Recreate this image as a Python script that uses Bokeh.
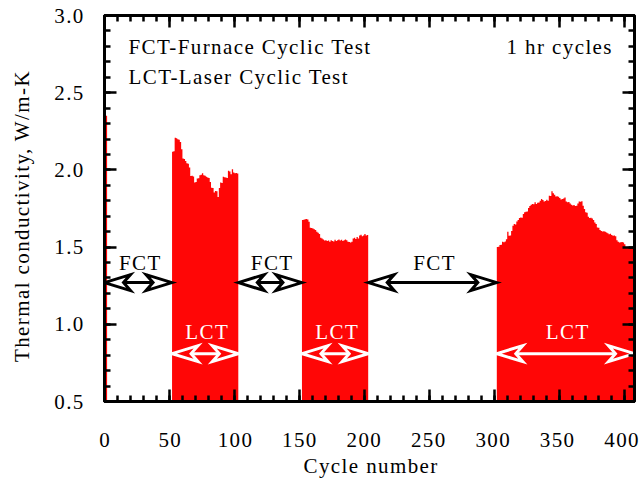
from bokeh.plotting import figure
from bokeh.models import (FixedTicker, LinearAxis, Range1d, Label, Title,
                          NumeralTickFormatter, InlineStyleSheet)
from bokeh.embed import file_html
from bokeh.resources import INLINE

FONT = "Liberation Serif"
FONT_SIZE = "21px"
TRACKING = 1.4          # letter spacing of all texts, px
RED = "#ff0606"

# ---- thermal conductivity (W/m-K) measured during the laser cycling phases ----
spike_cycles = [1]
spike_k = [2.35]

lct_a_cycles = list(range(52, 103))
lct_a_k = [2.117, 2.121, 2.208, 2.205, 2.199, 2.196, 2.180, 2.134, 2.074, 2.070,
           2.058, 2.043, 2.040, 2.015, 1.961, 1.962, 1.958, 1.918, 1.921, 1.944,
           1.946, 1.965, 1.968, 1.978, 1.965, 1.962, 1.956, 1.950, 1.948, 1.922,
           1.885, 1.882, 1.853, 1.864, 1.861, 1.825, 1.883, 1.918, 1.915, 1.955,
           1.952, 1.950, 1.947, 1.994, 1.990, 1.972, 2.005, 1.983, 1.978, 1.980,
           1.976]

lct_b_cycles = list(range(152, 203))
lct_b_k = [1.675, 1.677, 1.680, 1.682, 1.679, 1.664, 1.625, 1.623, 1.620, 1.615,
           1.610, 1.600, 1.593, 1.585, 1.560, 1.555, 1.550, 1.543, 1.545, 1.539,
           1.542, 1.535, 1.545, 1.539, 1.536, 1.548, 1.540, 1.545, 1.550, 1.543,
           1.548, 1.540, 1.545, 1.550, 1.545, 1.535, 1.533, 1.530, 1.535, 1.555,
           1.560, 1.552, 1.565, 1.555, 1.575, 1.580, 1.570, 1.575, 1.585, 1.575,
           1.578]

lct_c_cycles = list(range(302, 408))
lct_c_k = [1.501, 1.503, 1.514, 1.516, 1.534, 1.532, 1.536, 1.551, 1.599, 1.573,
           1.575, 1.605, 1.638, 1.649, 1.647, 1.666, 1.675, 1.688, 1.692, 1.690,
           1.714, 1.725, 1.729, 1.731, 1.753, 1.766, 1.774, 1.779, 1.777, 1.790,
           1.779, 1.787, 1.789, 1.800, 1.811, 1.805, 1.796, 1.798, 1.807, 1.800,
           1.833, 1.831, 1.861, 1.848, 1.839, 1.828, 1.830, 1.826, 1.818, 1.809,
           1.811, 1.815, 1.822, 1.796, 1.790, 1.792, 1.783, 1.774, 1.770, 1.772,
           1.766, 1.768, 1.783, 1.796, 1.794, 1.797, 1.768, 1.746, 1.725, 1.723,
           1.696, 1.688, 1.690, 1.686, 1.675, 1.660, 1.649, 1.627, 1.625, 1.610,
           1.605, 1.601, 1.603, 1.600, 1.594, 1.590, 1.584, 1.586, 1.579, 1.573,
           1.575, 1.571, 1.545, 1.534, 1.530, 1.532, 1.533, 1.530, 1.519, 1.500,
           1.502, 1.499, 1.500, 1.501, 1.498, 1.500]

# phase boundaries (cycle numbers)
fct_phases = [(0, 52), (103, 152), (203, 302)]
lct_phases = [(52, 103), (152, 203), (302, 408)]

# axes
X0, X1 = 0, 408
Y0, Y1 = 0.5, 3.0
x_major = [0, 50, 100, 150, 200, 250, 300, 350, 400]
x_minor = list(range(0, 410, 10))
y_major = [0.5, 1.0, 1.5, 2.0, 2.5, 3.0]
y_minor = [round(0.5 + 0.1 * i, 1) for i in range(26)]

FW, FH = 530, 386
PX_X = FW / (X1 - X0)
PX_Y = FH / (Y1 - Y0)

p = figure(frame_width=FW, frame_height=FH,
           x_range=Range1d(X0, X1), y_range=Range1d(Y0, Y1),
           output_backend="svg", toolbar_location=None,
           min_border_left=104, min_border_right=7,
           min_border_top=15, min_border_bottom=79)
# x tick labels live on a label-only axis whose range is stretched a little,
# so the letter-spaced numbers drift left toward the right end and "400"
# stays inside the page
p.extra_x_ranges = {"xlab": Range1d(X0 - 0.01, X1 + 3.25)}
p.stylesheets = [InlineStyleSheet(css=f":host {{ letter-spacing: {TRACKING}px; }}")]
p.xgrid.visible = False
p.ygrid.visible = False
p.outline_line_color = "black"
p.outline_line_width = 3
p.background_fill_color = "white"
p.border_fill_color = "white"

x_ticker = FixedTicker(ticks=x_major, minor_ticks=x_minor)
y_ticker = FixedTicker(ticks=y_major, minor_ticks=y_minor)


def style_axis(ax, labels=True):
    ax.axis_line_width = 3
    ax.axis_line_color = "black"
    ax.major_tick_line_width = 2.5
    ax.minor_tick_line_width = 2.5
    ax.major_tick_in = 12
    ax.major_tick_out = 0
    ax.minor_tick_in = 6
    ax.minor_tick_out = 0
    ax.major_label_text_font = FONT
    ax.axis_label_text_font = FONT
    ax.axis_label_text_font_size = FONT_SIZE
    ax.axis_label_text_font_style = "normal"
    ax.axis_label_text_color = "black"
    if labels:
        ax.major_label_text_font_size = FONT_SIZE
        ax.major_label_text_color = "black"
    else:
        ax.major_label_text_font_size = "1px"
        ax.major_label_text_color = None
        ax.major_label_standoff = 0


xax, yax = p.xaxis[0], p.yaxis[0]
xax.ticker = x_ticker
yax.ticker = y_ticker
yax.formatter = NumeralTickFormatter(format="0.0")
style_axis(xax, labels=False)
style_axis(yax)
yax.major_label_standoff = 24
# trailing em/en spaces balance the extra tracking so the rotated title
# stays centred along the axis
yax.axis_label = "Thermal conductivity, W/m-K\u2003\u2003\u2002"
yax.axis_label_standoff = 17

x_labels = LinearAxis(x_range_name="xlab",
                      ticker=FixedTicker(ticks=x_major, minor_ticks=[]))
x_labels.axis_line_color = None
x_labels.major_tick_line_color = None
x_labels.minor_tick_line_color = None
x_labels.major_label_text_font = FONT
x_labels.major_label_text_font_size = FONT_SIZE
x_labels.major_label_text_color = "black"
x_labels.major_label_standoff = 25
p.add_layout(x_labels, "below")

p.add_layout(Title(text="Cycle number", align="left", offset=199,
                   text_font=FONT, text_font_size=FONT_SIZE,
                   text_font_style="normal", text_color="black",
                   standoff=4), "below")

top_axis = LinearAxis(ticker=x_ticker)
style_axis(top_axis, labels=False)
p.add_layout(top_axis, "above")
right_axis = LinearAxis(ticker=y_ticker)
style_axis(right_axis, labels=False)
p.add_layout(right_axis, "right")

# ---- conductivity per cycle, drawn as a stepped filled area for each phase ----
for cyc, k in [(spike_cycles, spike_k), (lct_a_cycles, lct_a_k),
               (lct_b_cycles, lct_b_k), (lct_c_cycles, lct_c_k)]:
    edges = cyc + [cyc[-1] + 1]
    tops = k + [k[-1]]
    p.varea_step(x=edges, y1=[Y0] * len(edges), y2=tops,
                 step_mode="after", fill_color=RED)

# ---- double-headed phase arrows ----
HEAD_L, HEAD_W, HEAD_N = 26, 16, 7   # head length, width, notch depth (px)


def head(tip, y, direction):
    back = tip - direction * HEAD_L / PX_X
    notch = tip - direction * (HEAD_L - HEAD_N) / PX_X
    dy = HEAD_W / 2 / PX_Y
    return [tip, back, notch, back], [y, y + dy, y, y - dy], notch


def draw_arrows(phases, y, color, fill, label, label_y):
    xs, ys, x0s, x1s = [], [], [], []
    for a, b in phases:
        hx, hy, n0 = head(a, y, -1)
        xs.append(hx); ys.append(hy)
        hx, hy, n1 = head(b, y, 1)
        xs.append(hx); ys.append(hy)
        x0s.append(n0); x1s.append(n1)
        p.add_layout(Label(x=(a + b) / 2, y=label_y, text=label,
                           text_font=FONT, text_font_size=FONT_SIZE,
                           text_color=color, text_align="center",
                           text_baseline="alphabetic"))
    p.segment(x0=x0s, y0=[y] * len(x0s), x1=x1s, y1=[y] * len(x1s),
              line_color=color, line_width=3)
    p.patches(xs=xs, ys=ys, fill_color=fill, line_color=color,
              line_width=3, line_join="miter")


draw_arrows(fct_phases, 1.27, "black", "white", "FCT", 1.40)
draw_arrows(lct_phases, 0.81, "white", RED, "LCT", 0.95)

# ---- legend-style notes ----
for x, y, s in [(18.5, 2.795, "FCT-Furnace Cyclic Test"),
                (18.5, 2.603, "LCT-Laser Cyclic Test"),
                (309.5, 2.795, "1 hr cycles")]:
    p.add_layout(Label(x=x, y=y, text=s, text_font=FONT,
                       text_font_size=FONT_SIZE, text_color="black",
                       text_align="left", text_baseline="alphabetic"))

open("out.html", "w").write(file_html(p, INLINE))
